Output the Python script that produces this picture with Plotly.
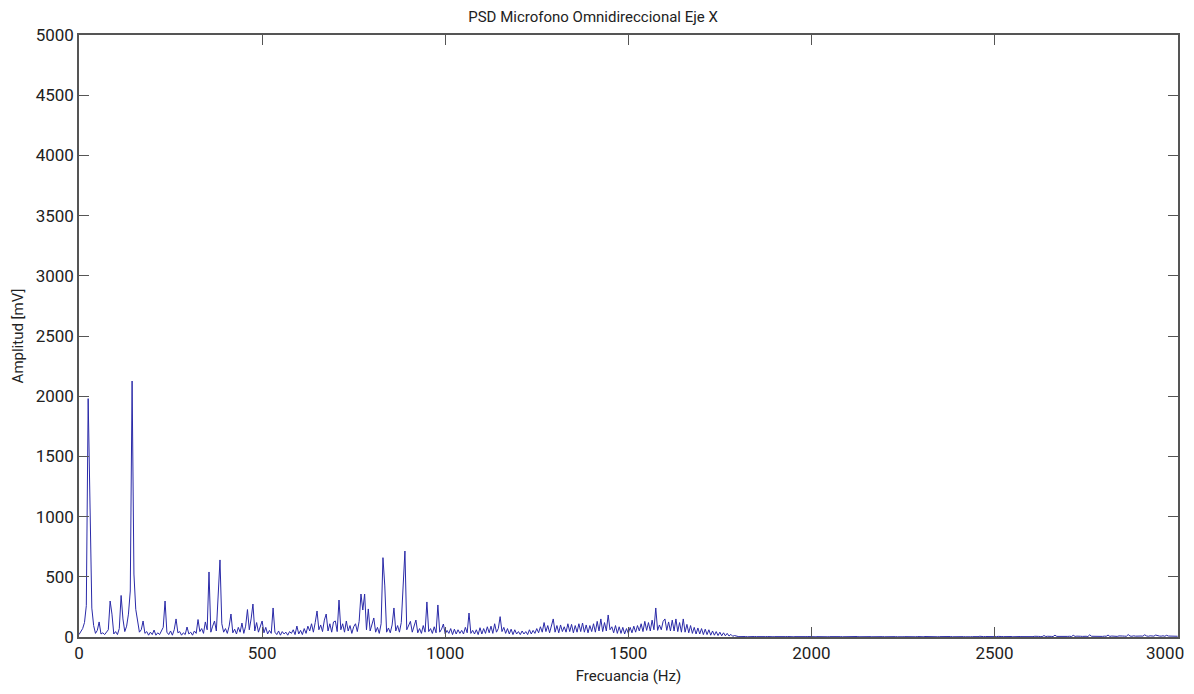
import numpy as np
import plotly.graph_objects as go

# Espectro PSD, resolucion de 5 Hz (en mV)
paso_hz = 5

amp_0_600 = [
    20, 45, 70, 120, 260, 1980, 1240, 240, 95, 30, 55, 125, 25, 35, 20, 40, 60, 299, 190, 25,
    45, 20, 70, 345, 150, 45, 90, 190, 382, 2126, 523, 230, 120, 40, 60, 133, 30, 45, 15, 40,
    20, 58, 15, 35, 20, 45, 80, 299, 40, 20, 50, 15, 60, 150, 35, 45, 15, 35, 20, 83,
    25, 40, 15, 50, 30, 145, 45, 70, 30, 125, 60, 540, 40, 90, 133, 50, 399, 640, 110, 40,
    70, 30, 90, 191, 35, 65, 25, 80, 40, 116, 30, 90, 228, 60, 150, 274, 50, 120, 40, 85,
    133, 35, 80, 25, 55, 30, 241, 40, 20, 50, 15, 45, 25, 40, 15, 45, 30, 60, 20, 91,
]

amp_600_1200 = [
    25, 55, 20, 70, 30, 90, 50, 110, 40, 120, 216, 60, 100, 45, 140, 191, 50, 110, 40, 125,
    133, 45, 307, 60, 110, 40, 133, 50, 95, 30, 85, 110, 45, 130, 357, 224, 357, 60, 233, 50,
    95, 158, 40, 80, 30, 110, 659, 424, 40, 75, 35, 100, 241, 50, 95, 40, 120, 424, 714, 60,
    90, 130, 40, 85, 141, 35, 70, 30, 95, 40, 291, 45, 70, 30, 85, 35, 266, 40, 65, 108,
    25, 55, 30, 70, 20, 65, 25, 60, 30, 55, 25, 80, 35, 199, 30, 55, 25, 60, 20, 77,
    25, 70, 30, 85, 35, 90, 30, 110, 40, 70, 169, 45, 80, 30, 70, 25, 65, 20, 60, 25,
]

amp_1200_1800 = [
    45, 20, 50, 25, 45, 20, 60, 25, 55, 30, 70, 35, 85, 40, 120, 45, 95, 35, 85, 150,
    40, 95, 35, 100, 45, 85, 40, 110, 45, 105, 35, 95, 40, 110, 45, 116, 40, 100, 35, 95,
    45, 110, 40, 130, 50, 150, 45, 120, 50, 183, 60, 85, 35, 95, 30, 85, 30, 80, 25, 70,
    30, 80, 35, 90, 40, 95, 50, 110, 45, 130, 55, 120, 50, 140, 60, 241, 55, 100, 60, 130,
    150, 55, 125, 50, 140, 50, 150, 45, 120, 40, 150, 40, 105, 35, 95, 30, 80, 25, 75, 25,
    70, 20, 65, 20, 60, 15, 50, 15, 45, 12, 40, 10, 35, 10, 30, 8, 22, 6, 12, 5,
]

amp_1800_3000 = [
    4, 3, 5, 3, 4, 2, 4, 3, 2, 4, 3, 2, 4, 3, 2, 3, 4, 2, 3, 2,
    3, 2, 4, 2, 3, 2, 3, 4, 2, 3, 2, 3, 2, 4, 2, 3, 2, 3, 4, 2,
    3, 4, 2, 3, 2, 3, 4, 2, 3, 2, 3, 4, 2, 3, 2, 4, 3, 2, 3, 2,
    4, 2, 3, 2, 3, 4, 2, 3, 2, 3, 2, 4, 3, 2, 3, 2, 4, 3, 2, 3,
    2, 3, 4, 2, 3, 2, 3, 2, 4, 3, 2, 3, 2, 4, 3, 2, 3, 2, 4, 2,
    3, 2, 4, 3, 2, 3, 2, 4, 3, 2, 3, 4, 2, 3, 2, 3, 4, 2, 3, 2,
    3, 4, 2, 3, 2, 4, 3, 2, 3, 2, 4, 3, 6, 2, 3, 4, 3, 2, 5, 3,
    4, 3, 5, 2, 4, 3, 4, 6, 3, 4, 2, 4, 5, 3, 4, 3, 2, 6, 3, 4,
    4, 3, 6, 3, 5, 4, 3, 12, 4, 6, 3, 5, 4, 15, 5, 4, 6, 3, 7, 4,
    5, 6, 4, 14, 5, 7, 4, 6, 5, 8, 6, 4, 18, 6, 5, 7, 4, 8, 6, 5,
    7, 6, 16, 5, 8, 6, 7, 5, 9, 6, 8, 7, 6, 20, 8, 6, 10, 7, 9, 6,
    8, 7, 18, 9, 6, 10, 8, 7, 16, 9, 8, 7, 10, 6, 14, 8, 7, 9, 6, 8,
    6,
]

amplitud = amp_0_600 + amp_600_1200 + amp_1200_1800 + amp_1800_3000
frecuencia = np.arange(len(amplitud)) * paso_hz

x_ticks = [0, 500, 1000, 1500, 2000, 2500, 3000]
# la etiqueta de 3000 va como anotacion para que no se corte en el borde
x_labels = ["0", "500", "1000", "1500", "2000", "2500", ""]
y_ticks = [0, 500, 1000, 1500, 2000, 2500, 3000, 3500, 4000, 4500, 5000]

fig = go.Figure()
fig.add_trace(go.Scatter(
    x=frecuencia,
    y=amplitud,
    mode="lines",
    line=dict(color="#2a2aa8", width=1),
    showlegend=False,
))

eje = dict(
    showline=True,
    linecolor="#555555",
    linewidth=1.5,
    mirror="ticks",
    ticks="inside",
    ticklen=10,
    tickcolor="#555555",
    showgrid=False,
    zeroline=False,
    automargin=False,
    tickfont=dict(size=17, color="#222222"),
)

fig.update_layout(
    width=1194,
    height=694,
    margin=dict(l=71, r=24, t=27, b=65),
    paper_bgcolor="white",
    plot_bgcolor="white",
    font=dict(family="Roboto, Arial, sans-serif", color="#222222"),
    title=dict(
        text="PSD Microfono Omnidireccional Eje X",
        x=0.49, xref="container", xanchor="center",
        y=0.987, yref="container", yanchor="middle",
        font=dict(size=15),
    ),
    xaxis=dict(
        eje,
        range=[0, 3001],
        tickvals=x_ticks,
        ticktext=x_labels,
        title=dict(text="Frecuancia (Hz)", font=dict(size=15), standoff=8),
    ),
    yaxis=dict(
        eje,
        range=[0, 5000],
        tickvals=y_ticks,
        title=dict(text="Amplitud [mV]", font=dict(size=15), standoff=8),
    ),
    annotations=[
        dict(
            text=str(x_ticks[-1]),
            x=x_ticks[-1], xref="x", xanchor="right", xshift=8,
            y=0, yref="paper", yanchor="middle", yshift=-16,
            showarrow=False,
            font=dict(size=17, color="#222222"),
        )
    ],
)

fig.write_html("out.html")
